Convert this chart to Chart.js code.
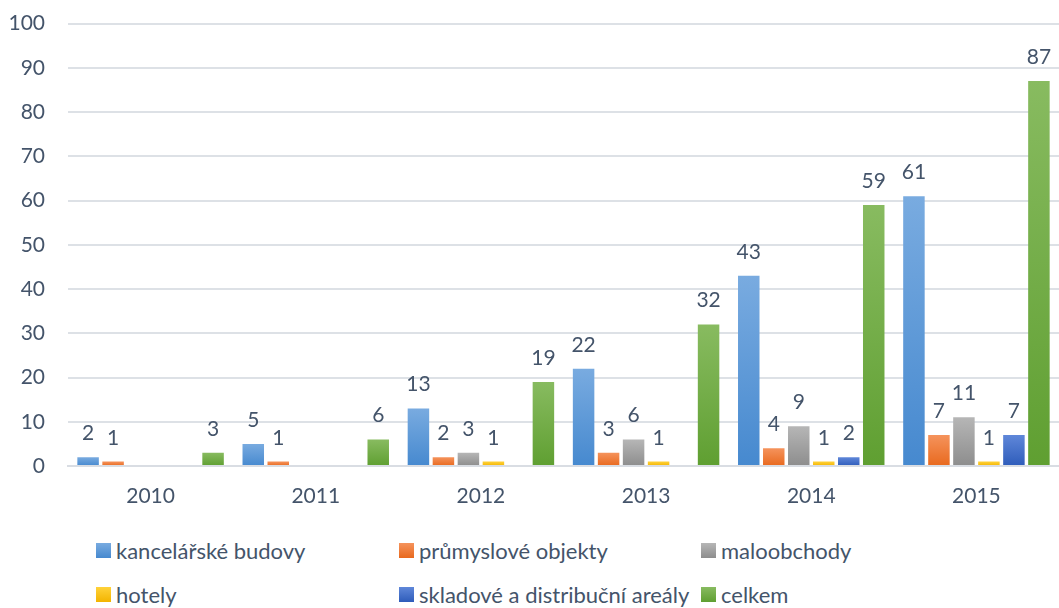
<!DOCTYPE html>
<html>
<head>
<meta charset="utf-8">
<script src="https://cdn.jsdelivr.net/npm/chart.js@4.4.1/dist/chart.umd.min.js"></script>
<style>
  html, body { margin: 0; padding: 0; background: #fff; }
  #wrap { position: relative; width: 1059px; height: 608px; font-family: Lato, sans-serif; overflow: hidden; }
  #chart-box { position: absolute; left: 0; top: -12px; width: 1059px; height: 522px; }
  #legend { position: absolute; left: 96px; top: 537px; width: 960px; display: grid;
            grid-template-columns: 303px 302px 300px; row-gap: 18px; }
  .item { display: flex; align-items: center; height: 26px; font-size: 22px; color: #44546a; white-space: nowrap; }
  .box { width: 15px; height: 15px; margin-right: 5px; flex: none; }
</style>
</head>
<body>
<div id="wrap">
  <div id="chart-box"><canvas id="bar-chart"></canvas></div>
  <div id="legend"></div>
</div>
<script>
const years = ['2010', '2011', '2012', '2013', '2014', '2015'];
const seriesNames = ['kancelářské budovy', 'průmyslové objekty', 'maloobchody', 'hotely', 'skladové a distribuční areály', 'celkem'];
const kancelare = [2, 5, 13, 22, 43, 61];
const prumysl = [1, 1, 2, 3, 4, 7];
const maloobchody = [0, 0, 3, 6, 9, 11];
const hotely = [0, 0, 1, 1, 1, 1];
const sklady = [0, 0, 0, 0, 2, 7];
const celkem = [3, 6, 19, 32, 59, 87];
const yTicks = [0, 10, 20, 30, 40, 50, 60, 70, 80, 90, 100];

// top / bottom colours of each bar gradient
const colors = [
  ['#79abe0', '#4689cf'],
  ['#f5935c', '#e8691e'],
  ['#b6b6b6', '#8d8d8d'],
  ['#ffd23a', '#f3b400'],
  ['#5f87d9', '#2e5cba'],
  ['#88bb60', '#5f9f31']
];
const values = [kancelare, prumysl, maloobchody, hotely, sklady, celkem];
const textColor = '#44546a';

function barGradient(i) {
  return function (ctx) {
    const chart = ctx.chart;
    const y = chart.scales && chart.scales.y;
    if (!y || ctx.type !== 'data') return colors[i][1];
    const v = ctx.raw || 0;
    const top = y.getPixelForValue(v);
    const bottom = y.getPixelForValue(0);
    if (!isFinite(top) || bottom - top < 1) return colors[i][1];
    const g = chart.ctx.createLinearGradient(0, top, 0, bottom);
    g.addColorStop(0, colors[i][0]);
    g.addColorStop(1, colors[i][1]);
    return g;
  };
}

const valueLabels = {
  id: 'valueLabels',
  afterDatasetsDraw(chart) {
    const c = chart.ctx;
    c.save();
    c.font = '21px Lato';
    c.fillStyle = textColor;
    c.textAlign = 'center';
    c.textBaseline = 'alphabetic';
    chart.data.datasets.forEach((ds, i) => {
      chart.getDatasetMeta(i).data.forEach((bar, j) => {
        if (!ds.data[j]) return;
        c.fillText(ds.data[j], bar.x, bar.y - 17);
      });
    });
    c.restore();
  }
};

const myChart = new Chart(document.getElementById('bar-chart'), {
  type: 'bar',
  data: {
    labels: years,
    datasets: seriesNames.map((name, i) => ({
      label: name,
      data: values[i],
      backgroundColor: barGradient(i),
      barPercentage: 0.86,
      categoryPercentage: 0.908
    }))
  },
  options: {
    responsive: true,
    maintainAspectRatio: false,
    animation: false,
    layout: { padding: { top: 11, right: 0, bottom: 0, left: 0 } },
    plugins: { legend: { display: false }, tooltip: { enabled: false } },
    scales: {
      x: {
        grid: { display: false, drawTicks: false },
        border: { display: true, color: '#d9dde3', width: 2 },
        ticks: { color: textColor, font: { family: 'Lato', size: 21 }, padding: 18 },
        afterFit: s => { s.height = 44; }
      },
      y: {
        min: 0, max: 100,
        afterBuildTicks: s => { s.ticks = yTicks.map(v => ({ value: v })); },
        grid: { color: '#dde1e6', lineWidth: 2, drawTicks: false },
        border: { display: false },
        ticks: { color: textColor, font: { family: 'Lato', size: 21 }, padding: 23 },
        afterFit: s => { s.width = 68; }
      }
    }
  },
  plugins: [valueLabels]
});

const legend = document.getElementById('legend');
seriesNames.forEach((name, i) => {
  const item = document.createElement('div');
  item.className = 'item';
  item.innerHTML = '<span class="box" style="background:linear-gradient(' + colors[i][0] + ',' + colors[i][1] + ')"></span>' + name;
  legend.appendChild(item);
});
</script>
</body>
</html>
